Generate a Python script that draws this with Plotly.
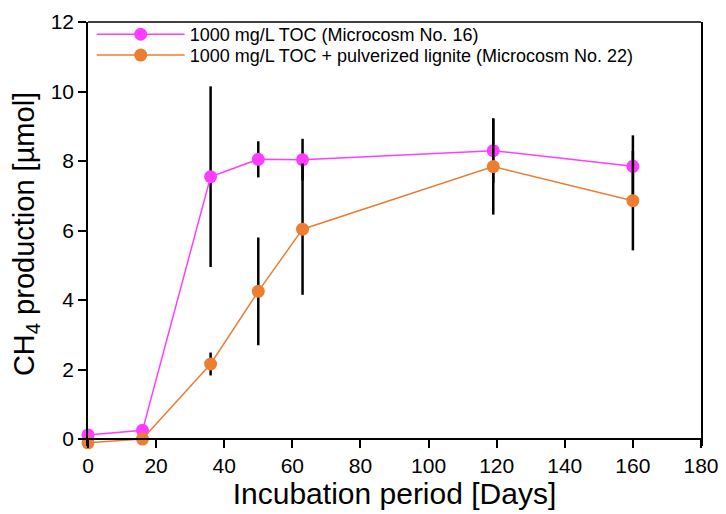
import plotly.graph_objects as go

days_a = [0, 16, 36, 50, 63, 119, 160]
ch4_a = [0.12, 0.25, 7.55, 8.05, 8.04, 8.30, 7.85]
err_a = [0.0, 0.0, 2.6, 0.52, 0.6, 0.93, 0.89]

days_b = [0, 16, 36, 50, 63, 119, 160]
ch4_b = [-0.11, 0.0, 2.16, 4.25, 6.04, 7.84, 6.86]
err_b = [0.0, 0.0, 0.33, 1.55, 1.89, 1.38, 1.43]

name_a = "1000 mg/L TOC (Microcosm No. 16)"
name_b = "1000 mg/L TOC + pulverized lignite (Microcosm No. 22)"

x_ticks = list(range(0, 181, 20))
y_ticks = list(range(0, 13, 2))

MAGENTA = "#FF3DFF"
ORANGE = "#ED7D31"

Y_MIN, Y_MAX = -0.2, 12.002

fig = go.Figure()
fig.add_trace(go.Scatter(
    x=days_a, y=ch4_a, name=name_a, mode="lines+markers",
    line=dict(color=MAGENTA, width=1.5),
    marker=dict(color=MAGENTA, size=13),
    error_y=dict(type="data", array=err_a, color="black", thickness=2.5, width=0),
    cliponaxis=False, legend="legend",
))
fig.add_trace(go.Scatter(
    x=days_b, y=ch4_b, name=name_b, mode="lines+markers",
    line=dict(color=ORANGE, width=1.5),
    marker=dict(color=ORANGE, size=13),
    error_y=dict(type="data", array=err_b, color="black", thickness=2.5, width=0),
    cliponaxis=False, legend="legend2",
))

legend_common = dict(
    x=0.006, xanchor="left", yanchor="top",
    font=dict(size=18), bgcolor="rgba(0,0,0,0)", itemwidth=88,
)

fig.update_layout(
    width=718, height=506,
    margin=dict(l=80, r=25, t=8, b=68),
    paper_bgcolor="white", plot_bgcolor="white",
    font=dict(family="Liberation Sans, Arial, sans-serif", color="black"),
    showlegend=True,
    legend=dict(y=1.014, **legend_common),
    legend2=dict(y=0.965, **legend_common),
    xaxis=dict(
        range=[0, 180], tickvals=x_ticks, ticks="outside", ticklen=8,
        tickwidth=1.5, tickcolor="black", automargin=False,
        anchor="free", position=(0 - Y_MIN) / (Y_MAX - Y_MIN),
        showline=True, linecolor="black", linewidth=1.5,
        showgrid=False, zeroline=False, tickfont=dict(size=21),
        title=dict(text="Incubation period [Days]", font=dict(size=30), standoff=0),
    ),
    yaxis=dict(
        range=[Y_MIN, Y_MAX], tickvals=y_ticks, ticks="outside", ticklen=8,
        tickwidth=1.5, tickcolor="black", automargin=False,
        showline=True, linecolor="black", linewidth=1.5, mirror=True,
        showgrid=False, zeroline=False, tickfont=dict(size=21),
        title=dict(text="CH<sub>4</sub> production [µmol]", font=dict(size=29), standoff=19),
    ),
    shapes=[dict(type="line", xref="paper", yref="paper", x0=0, x1=1, y0=1, y1=1,
                 line=dict(color="black", width=1.5))],
)

fig.write_html("out.html")
